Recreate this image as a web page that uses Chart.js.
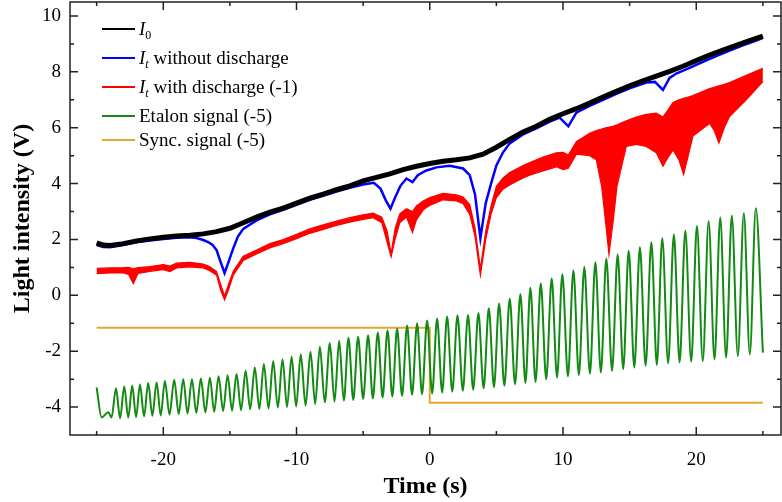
<!DOCTYPE html>
<html>
<head>
<meta charset="utf-8">
<script src="https://cdn.jsdelivr.net/npm/chart.js@4.4.1/dist/chart.umd.min.js"></script>
<style>
  html, body { margin: 0; padding: 0; background: #fff; }
  #wrap { position: relative; width: 782px; height: 502px; }
  #legend { position: absolute; left: 0; top: 0; font-family: "Liberation Serif", "Times New Roman", serif; font-size: 19px; color: #000; }
  .row { position: absolute; left: 102px; height: 22px; }
  .row .swatch { position: absolute; left: 0; top: 10px; width: 33px; height: 2px; }
  .row .label { position: absolute; left: 37px; top: 0; line-height: 22px; white-space: nowrap; }
  .row sub { font-size: 12px; vertical-align: -4px; line-height: 0; }
</style>
</head>
<body>
<div id="wrap">
  <canvas id="chart" width="782" height="502"></canvas>
  <div id="legend"></div>
</div>
<script>
// axis ticks
const xTicks = [-20, -10, 0, 10, 20];
const xMinor = [-25, -15, -5, 5, 15, 25];
const yTicks = [-4, -2, 0, 2, 4, 6, 8, 10];
const yMinor = [-3, -1, 1, 3, 5, 7, 9];

// I0 (black)
const i0T = [-25, -24.5, -24, -23, -22, -21, -20, -19, -18, -17, -16, -15, -14, -13, -12, -11, -10, -9, -8, -7, -6, -5, -4, -3, -2, -1, 0, 1, 2, 3, 4, 5, 6, 7, 8, 9, 10, 11, 12, 13, 14, 15, 16, 17, 18, 19, 20, 21, 22, 23, 24, 25];
const i0V = [1.88, 1.8, 1.78, 1.85, 1.95, 2.02, 2.08, 2.12, 2.15, 2.2, 2.28, 2.4, 2.6, 2.8, 2.98, 3.12, 3.3, 3.48, 3.62, 3.78, 3.92, 4.1, 4.22, 4.35, 4.5, 4.62, 4.72, 4.8, 4.85, 4.92, 5.05, 5.3, 5.58, 5.85, 6.05, 6.3, 6.5, 6.68, 6.88, 7.1, 7.3, 7.5, 7.68, 7.85, 8.02, 8.2, 8.4, 8.6, 8.78, 8.95, 9.12, 9.28];

// It without discharge (blue)
const blueT = [-25, -24.5, -24, -23, -22, -21, -20, -19, -18, -17.5, -17, -16.6, -16.3, -16, -15.7, -15.4, -15.1, -14.75, -14.4, -14, -13, -12, -11, -10, -9, -8, -7, -6, -5, -4.2, -3.7, -3.3, -2.95, -2.6, -2.2, -1.75, -1.3, -0.9, -0.3, 0.5, 1.5, 2.5, 3.0, 3.4, 3.8, 4.2, 4.6, 5.0, 5.5, 6.0, 7.0, 8.0, 9.0, 9.75, 10.4, 11.0, 12, 13, 14, 15, 16.25, 16.9, 17.5, 18.0, 18.5, 19.5, 20.5, 21.5, 22.5, 23.5, 24.5, 25];
const blueV = [1.8, 1.73, 1.72, 1.8, 1.9, 1.96, 2.02, 2.06, 2.08, 2.05, 1.98, 1.9, 1.8, 1.62, 1.2, 0.8, 1.2, 1.68, 2.1, 2.38, 2.68, 2.9, 3.06, 3.24, 3.42, 3.56, 3.71, 3.85, 3.97, 4.03, 3.82, 3.4, 3.1, 3.5, 3.92, 4.18, 4.05, 4.3, 4.46, 4.58, 4.64, 4.54, 4.3, 3.6, 2.05, 3.3, 4.0, 4.65, 5.12, 5.44, 5.76, 5.98, 6.22, 6.36, 6.05, 6.54, 6.78, 7.0, 7.21, 7.41, 7.62, 7.64, 7.35, 7.78, 7.94, 8.14, 8.36, 8.56, 8.76, 8.95, 9.12, 9.22];

// It with discharge (-1), red: upper and lower edge of the noisy band
const redT = [-25, -24, -23, -22.6, -22.25, -21.9, -21, -20, -19.5, -19, -18, -17, -16.5, -16, -15.7, -15.4, -15.1, -14.75, -14, -13, -12, -11, -10, -9, -8, -7, -6, -5, -4.25, -3.6, -3.2, -2.9, -2.6, -2.25, -1.75, -1.3, -1.0, -0.5, 0, 1, 2, 2.5, 3.0, 3.4, 3.8, 4.2, 4.6, 5, 5.5, 6, 7, 7.5, 8.5, 9.5, 10, 10.4, 11, 12, 12.5, 12.9, 13.2, 13.45, 13.75, 14.05, 14.75, 15.5, 16.25, 17, 17.5, 17.9, 18.25, 18.7, 19.05, 19.4, 19.75, 21, 21.35, 21.7, 22.1, 22.5, 23.75, 25];
const redHi = [0.97, 0.98, 0.99, 1.0, 0.95, 0.99, 1.03, 1.1, 1.05, 1.15, 1.18, 1.12, 1.02, 0.85, 0.4, -0.02, 0.4, 0.86, 1.4, 1.62, 1.85, 2.0, 2.18, 2.38, 2.52, 2.66, 2.78, 2.88, 2.94, 2.8, 2.3, 1.5, 2.4, 2.92, 3.1, 3.0, 3.2, 3.38, 3.5, 3.65, 3.6, 3.52, 3.25, 2.4, 0.95, 2.3, 3.2, 3.9, 4.2, 4.4, 4.65, 4.75, 4.95, 5.1, 5.12, 5.02, 5.5, 5.8, 5.9, 5.95, 6.0, 6.02, 6.05, 6.1, 6.25, 6.38, 6.48, 6.52, 6.38, 6.65, 6.9, 7.0, 7.05, 7.1, 7.15, 7.4, 7.45, 7.5, 7.55, 7.62, 7.88, 8.13];
const redLo = [0.78, 0.8, 0.8, 0.75, 0.42, 0.78, 0.86, 0.92, 0.85, 0.98, 1.02, 0.98, 0.88, 0.72, 0.2, -0.16, 0.2, 0.72, 1.25, 1.48, 1.7, 1.85, 2.03, 2.22, 2.36, 2.5, 2.62, 2.72, 2.78, 2.6, 1.9, 1.38, 2.0, 2.6, 2.8, 2.25, 2.7, 3.05, 3.22, 3.42, 3.38, 3.28, 2.9, 2.1, 0.72, 2.0, 2.9, 3.5, 3.8, 3.95, 4.2, 4.3, 4.45, 4.6, 4.5, 4.55, 5.05, 5.0, 4.85, 3.9, 2.6, 1.46, 2.6, 3.9, 5.33, 5.4, 5.33, 5.1, 4.62, 4.95, 5.2, 4.85, 4.32, 5.0, 5.7, 6.15, 5.9, 5.45, 6.0, 6.4, 7.0, 7.65];

// Etalon signal (-5), green: fringe peaks and troughs
const etalonT = [-25, -24.63, -24.13, -23.88,
  -23.55, -23.24, -22.93, -22.63, -22.33, -22.04, -21.75, -21.44, -21.13, -20.82, -20.5, -20.19, -19.88, -19.53, -19.18, -18.84,
  -18.5, -18.18, -17.85, -17.52, -17.18, -16.84, -16.5, -16.18, -15.85, -15.51, -15.17, -14.84, -14.5, -14.16, -13.82, -13.48,
  -13.13, -12.79, -12.45, -12.1, -11.75, -11.4, -11.05, -10.71, -10.37, -10.03, -9.68, -9.32, -8.95, -8.6, -8.25, -7.88,
  -7.5, -7.15, -6.8, -6.45, -6.1, -5.74, -5.38, -5.0, -4.63, -4.27, -3.9, -3.54, -3.17, -2.81, -2.45, -2.08, -1.7, -1.33,
  -0.95, -0.58, -0.2, 0.18, 0.55, 0.93, 1.3, 1.69, 2.08, 2.48, 2.87, 3.26, 3.65, 4.04, 4.43, 4.82, 5.2, 5.6, 6.0, 6.4,
  6.8, 7.18, 7.55, 7.94, 8.33, 8.74, 9.15, 9.55, 9.95, 10.37, 10.78, 11.19, 11.6, 12.02, 12.43, 12.84, 13.25, 13.68, 14.1, 14.52,
  14.93, 15.35, 15.77, 16.2, 16.63, 17.04, 17.45, 17.89, 18.32, 18.75, 19.18, 19.62, 20.05, 20.49, 20.93, 21.37, 21.8, 22.24,
  22.67, 23.12, 23.57, 24.02, 24.47, 25];
const etalonV = [-3.3, -4.37, -4.19, -4.37,
  -3.33, -4.4, -3.26, -4.38, -3.24, -4.36, -3.19, -4.33, -3.14, -4.31, -3.12, -4.3, -3.07, -4.27, -3.02, -4.25,
  -3.0, -4.23, -3.0, -4.21, -2.98, -4.19, -2.95, -4.17, -2.9, -4.14, -2.86, -4.13, -2.82, -4.11, -2.7, -4.08,
  -2.58, -4.07, -2.46, -4.05, -2.35, -4.02, -2.29, -4.0, -2.19, -3.98, -2.11, -3.95, -2.02, -3.89, -1.84, -3.83,
  -1.71, -3.81, -1.63, -3.77, -1.52, -3.75, -1.48, -3.71, -1.43, -3.69, -1.33, -3.65, -1.25, -3.62, -1.19, -3.6, -1.08, -3.56,
  -1.0, -3.54, -0.9, -3.51, -0.83, -3.48, -0.76, -3.45, -0.71, -3.42, -0.7, -3.38, -0.63, -3.33, -0.46, -3.29, -0.29, -3.24, -0.11, -3.19,
  0.05, -3.14, 0.27, -3.1, 0.42, -3.0, 0.6, -2.94, 0.75, -2.9, 0.89, -2.85, 1.01, -2.8, 1.18, -2.76, 1.32, -2.7, 1.46, -2.64,
  1.6, -2.58, 1.72, -2.52, 1.9, -2.49, 2.04, -2.43, 2.18, -2.4, 2.31, -2.37, 2.48, -2.35, 2.65, -2.29, 2.79, -2.23,
  2.85, -2.17, 2.94, -2.11, 3.12, -2.05];

// Sync. signal (-5), orange
const syncT = [-25, 0, 0, 25];
const syncV = [-1.16, -1.16, -3.85, -3.85];

const legendItems = [
  { html: '<i>I</i><sub>0</sub>', color: '#000000' },
  { html: '<i>I</i><sub><i>t</i></sub> without discharge', color: '#0000ff' },
  { html: '<i>I</i><sub><i>t</i></sub> with discharge (-1)', color: '#ff0000' },
  { html: 'Etalon signal (-5)', color: '#138a13' },
  { html: 'Sync. signal (-5)', color: '#e6a92e' }
];
const legendRowsY = [29.3, 58.3, 87.3, 116.3, 139.5];

const pts = (xs, ys) => xs.map((x, i) => ({ x: x, y: ys[i] }));

const frameTicks = {
  id: 'frameTicks',
  afterDraw(chart) {
    const { ctx, chartArea: a, scales: { x, y } } = chart;
    ctx.save();
    ctx.strokeStyle = '#222';
    ctx.lineWidth = 1.5;
    ctx.strokeRect(a.left, a.top, a.right - a.left, a.bottom - a.top);
    ctx.beginPath();
    const xMark = (v, len) => {
      const px = x.getPixelForValue(v);
      ctx.moveTo(px, a.bottom); ctx.lineTo(px, a.bottom - len);
      ctx.moveTo(px, a.top); ctx.lineTo(px, a.top + len);
    };
    const yMark = (v, len) => {
      const py = y.getPixelForValue(v);
      ctx.moveTo(a.left, py); ctx.lineTo(a.left + len, py);
      ctx.moveTo(a.right, py); ctx.lineTo(a.right - len, py);
    };
    xTicks.forEach(v => xMark(v, 8));
    xMinor.forEach(v => xMark(v, 4));
    yTicks.forEach(v => yMark(v, 8));
    yMinor.forEach(v => yMark(v, 4));
    ctx.stroke();
    ctx.restore();
  }
};

const FONT = '"Liberation Serif", "Times New Roman", serif';
Chart.defaults.font.family = FONT;
Chart.defaults.color = '#000';

const lineDs = (data, color, width, extra) => Object.assign({
  data: data,
  borderColor: color,
  backgroundColor: color,
  borderWidth: width,
  pointRadius: 0,
  fill: false
}, extra || {});

new Chart(document.getElementById('chart').getContext('2d'), {
  type: 'line',
  data: {
    datasets: [
      lineDs(pts(i0T, i0V), '#000000', 5),
      lineDs(pts(blueT, blueV), '#0000ff', 2.5),
      lineDs(pts(redT, redHi), '#ff0000', 1.2),
      lineDs(pts(redT, redLo), '#ff0000', 1.2, { fill: '-1' }),
      lineDs(pts(etalonT, etalonV), '#138a13', 2, { cubicInterpolationMode: 'monotone' }),
      lineDs(pts(syncT, syncV), '#e6a92e', 2)
    ]
  },
  options: {
    responsive: false,
    animation: false,
    events: [],
    layout: { padding: { top: 2, right: 1, left: 0, bottom: 0 } },
    plugins: {
      legend: { display: false },
      tooltip: { enabled: false }
    },
    scales: {
      x: {
        type: 'linear',
        min: -27,
        max: 26.36,
        grid: { display: false, drawTicks: false },
        border: { display: false },
        ticks: { font: { size: 19 }, color: '#000', padding: 14 },
        afterBuildTicks: s => { s.ticks = xTicks.map(v => ({ value: v })); },
        afterFit: s => { s.height = 67; s.paddingLeft = 0; s.paddingRight = 0; },
        title: { display: true, text: 'Time (s)', font: { size: 24, weight: 'bold' }, color: '#000', padding: { top: 0, bottom: 1 } }
      },
      y: {
        min: -5,
        max: 10.5,
        grid: { display: false, drawTicks: false },
        border: { display: false },
        ticks: { font: { size: 19 }, color: '#000', padding: 9 },
        afterBuildTicks: s => { s.ticks = yTicks.map(v => ({ value: v })); },
        afterFit: s => { s.width = 70; s.paddingTop = 0; s.paddingBottom = 0; },
        title: { display: true, text: 'Light intensity (V)', font: { size: 24, weight: 'bold' }, color: '#000', padding: { top: 8, bottom: 0 } }
      }
    }
  },
  plugins: [frameTicks]
});

const legend = document.getElementById('legend');
legendItems.forEach((item, i) => {
  const row = document.createElement('div');
  row.className = 'row';
  row.style.top = (legendRowsY[i] - 11) + 'px';
  row.innerHTML = `<span class="swatch" style="background:${item.color}"></span><span class="label">${item.html}</span>`;
  legend.appendChild(row);
});
</script>
</body>
</html>
